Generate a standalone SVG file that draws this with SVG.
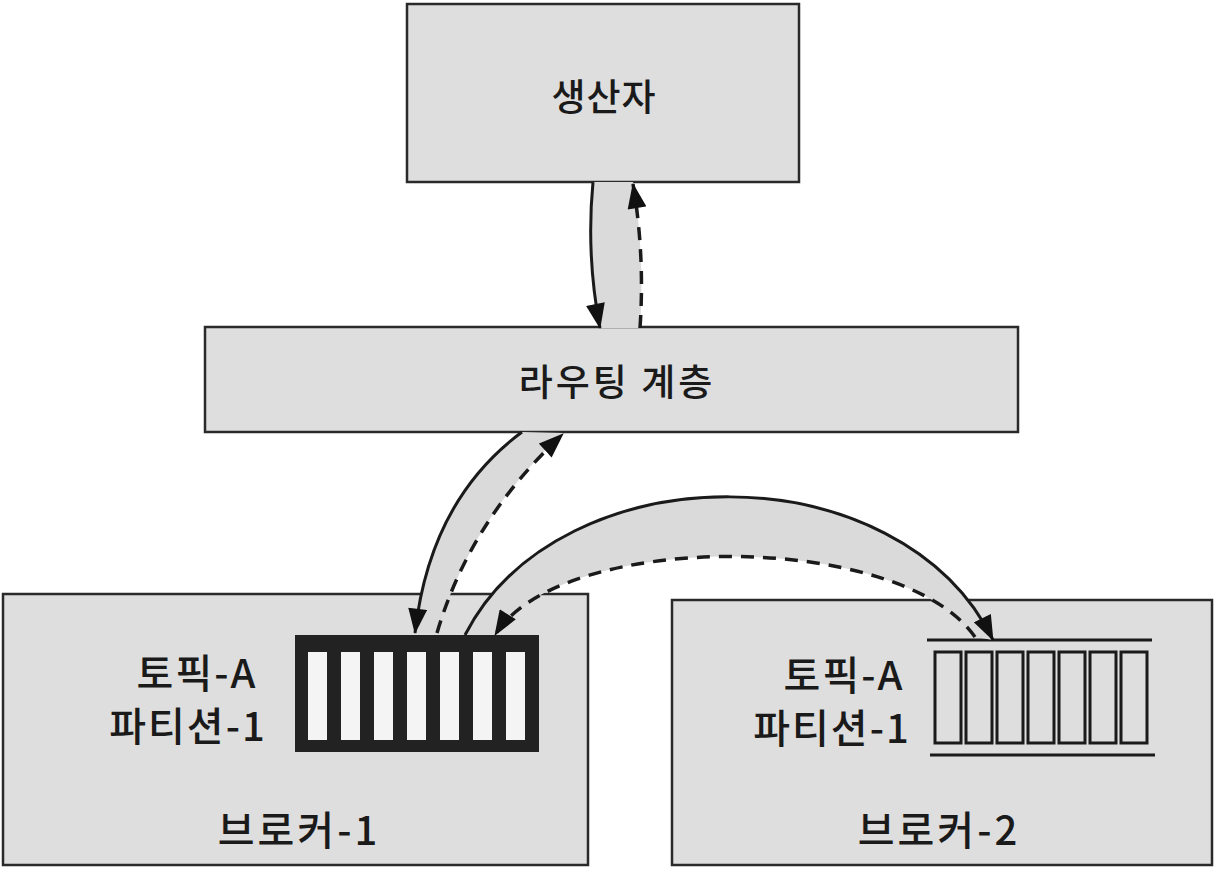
<svg xmlns="http://www.w3.org/2000/svg" width="1225" height="875" viewBox="0 0 1225 875">
<defs>
<style>
.box{fill:#dedede;stroke:#2a2a2a;stroke-width:2.5}
.band{fill:#dadada;stroke:none}
.solid{fill:none;stroke:#1a1a1a;stroke-width:3}
.dash{fill:none;stroke:#1a1a1a;stroke-width:3.5;stroke-dasharray:13 9}
.lbl{font-family:"Noto Sans CJK KR","Noto Sans",sans-serif;font-size:40px;font-weight:500;letter-spacing:2px;fill:#1a1a1a;text-anchor:middle}
.big{font-size:37px;letter-spacing:1px}
.slot2{fill:#dedede;stroke:#1a1a1a;stroke-width:3}
</style>
<marker id="ah" viewBox="0 0 24 18" refX="23" refY="9" markerWidth="26" markerHeight="19" markerUnits="userSpaceOnUse" orient="auto">
<path d="M0,0 L24,9 L0,18 Z" fill="#111"/>
</marker>
</defs>
<rect width="1225" height="875" fill="#ffffff"/>

<g id="producer">
<rect class="box" x="407" y="4" width="392" height="178"/>
<text class="lbl big" x="604" y="111">생산자</text>
</g>

<g id="routing">
<rect class="box" x="205" y="327" width="813" height="105"/>
<text class="lbl big" x="617" y="396" style="letter-spacing:3px">라우팅 계층</text>
</g>

<g id="broker1">
<rect class="box" x="3" y="594" width="585" height="271"/>
<text class="lbl" x="197" y="688">토픽-A</text>
<text class="lbl" x="188" y="741">파티션-1</text>
<text class="lbl" x="299" y="845" style="letter-spacing:3px">브로커-1</text>
<g id="partition1">
<rect x="295" y="635" width="244" height="117" fill="#222"/>
<g fill="#f4f4f4">
<rect x="308" y="652" width="19" height="88"/>
<rect x="341" y="652" width="19" height="88"/>
<rect x="374" y="652" width="19" height="88"/>
<rect x="407" y="652" width="19" height="88"/>
<rect x="440" y="652" width="19" height="88"/>
<rect x="473" y="652" width="19" height="88"/>
<rect x="506" y="652" width="19" height="88"/>
</g>
</g>
</g>

<g id="broker2">
<rect class="box" x="672" y="600" width="540" height="265"/>
<text class="lbl" x="844" y="690">토픽-A</text>
<text class="lbl" x="832" y="743">파티션-1</text>
<text class="lbl" x="939" y="845" style="letter-spacing:3px">브로커-2</text>
<g id="partition2">
<line x1="927" y1="640" x2="1152" y2="640" stroke="#1a1a1a" stroke-width="3"/>
<line x1="930" y1="755" x2="1155" y2="755" stroke="#1a1a1a" stroke-width="3"/>
<rect class="slot2" x="935" y="652" width="26" height="91"/>
<rect class="slot2" x="966" y="652" width="26" height="91"/>
<rect class="slot2" x="997" y="652" width="26" height="91"/>
<rect class="slot2" x="1028" y="652" width="26" height="91"/>
<rect class="slot2" x="1059" y="652" width="26" height="91"/>
<rect class="slot2" x="1090" y="652" width="26" height="91"/>
<rect class="slot2" x="1121" y="652" width="26" height="91"/>
</g>
</g>

<g id="connectors">
<path class="band" d="M593,182 Q586,255 600,328 L640,328 Q645,255 633,182 Z"/>
<path class="solid" d="M593,182 Q586,255 600,328" marker-end="url(#ah)"/>
<path class="dash" d="M640,328 Q645,255 633,184" marker-end="url(#ah)"/>

<path class="band" d="M522,432 Q430,500 415,633 L437,633 Q470,520 563,433 Z"/>
<path class="solid" d="M522,432 Q430,500 415,633" marker-end="url(#ah)"/>
<path class="dash" d="M437,633 Q470,520 563,434" marker-end="url(#ah)"/>

<path class="band" d="M465,635 C560,450 900,450 993,640 L975,637 C900,530 560,530 495,635 Z"/>
<path class="solid" d="M465,635 C560,450 900,450 993,640" marker-end="url(#ah)"/>
<path class="dash" d="M975,637 C900,530 560,530 495,635" marker-end="url(#ah)"/>
</g>
</svg>
